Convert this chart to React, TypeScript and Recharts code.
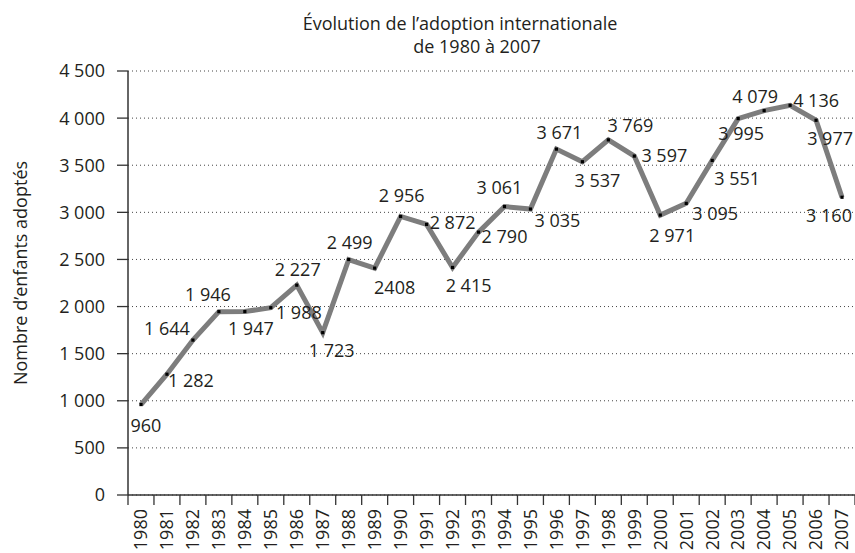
import React from 'react';
import { LineChart, Line, XAxis, YAxis, CartesianGrid, LabelList } from 'recharts';

const years = ['1980','1981','1982','1983','1984','1985','1986','1987','1988','1989','1990','1991','1992','1993','1994','1995','1996','1997','1998','1999','2000','2001','2002','2003','2004','2005','2006','2007'];
const adoptions = [960,1282,1644,1946,1947,1988,2227,1723,2499,2408,2956,2872,2415,2790,3061,3035,3671,3537,3769,3597,2971,3095,3551,3995,4079,4136,3977,3160];
const pointLabels = ['960','1 282','1 644','1 946','1 947','1 988','2 227','1 723','2 499','2408','2 956','2 872','2 415','2 790','3 061','3 035','3 671','3 537','3 769','3 597','2 971','3 095','3 551','3 995','4 079','4 136','3 977','3 160'];
const yTicks = [0,500,1000,1500,2000,2500,3000,3500,4000,4500];
const yTickLabels = ['0','500','1 000','1 500','2 000','2 500','3 000','3 500','4 000','4 500'];
const titleLine1 = 'Évolution de l’adoption internationale';
const titleLine2 = 'de 1980 à 2007';
const yAxisTitle = 'Nombre d’enfants adoptés';

// label placement offsets (px) relative to each point
const labelOffsets: [number, number][] = [
  [5,20],[24,6],[-26,-12],[-11,-18],[6,16],[28,4],[1,-16],[9,17],[1,-18],[20,19],
  [1,-21],[26,-2],[16,18],[26,4],[-5,-20],[27,11],[3,-17],[15,18],[22,-15],[30,-1],
  [12,20],[29,10],[25,18],[3,14],[-9,-15],[26,-5],[14,18],[-13,18],
];

const data = years.map((y, i) => ({ year: y, value: adoptions[i], label: pointLabels[i] }));

const W = 855;
const H = 553;
const LEFT = 128;
const TOP = 71;
const XAXIS_H = 58;
const PLOT_W = W - LEFT;
const HALF_BAND = PLOT_W / years.length / 2;
const FONT = '"Open Sans", sans-serif';
const TEXT = '#231f20';
const TICK_SIZE = 10;
const TICK_MARGIN = 4;

const XTick = (props: any) => {
  const { x, y, payload, index } = props;
  const axisY = y - TICK_SIZE - TICK_MARGIN;
  return (
    <g key={`xt-${index}`}>
      <line x1={x - HALF_BAND} x2={x - HALF_BAND} y1={axisY} y2={axisY + TICK_SIZE} stroke="#333" strokeWidth={1.3} />
      {index === years.length - 1 && (
        <line x1={x + HALF_BAND} x2={x + HALF_BAND} y1={axisY} y2={axisY + TICK_SIZE} stroke="#333" strokeWidth={1.3} />
      )}
      <g transform={`translate(${x},${y}) rotate(-90)`}>
        <text x={0} y={0} textAnchor="end" dy="0.35em" fontSize={18} fontFamily={FONT} fill={TEXT}>
          {payload.value}
        </text>
      </g>
    </g>
  );
};

const renderDot = (props: any) => {
  const { cx, cy, index } = props;
  return <rect key={`d-${index}`} x={cx - 1.6} y={cy - 1.6} width={3.2} height={3.2} fill="#000" />;
};

const renderLabel = (props: any) => {
  const { x, y, index, value } = props;
  const [dx, dy] = labelOffsets[index] || [0, 0];
  return (
    <text key={`l-${index}`} x={x + dx} y={y + dy} textAnchor="middle" dominantBaseline="central" fontSize={18} fontFamily={FONT} fill={TEXT}>
      {value}
    </text>
  );
};

export default function App() {
  return (
    <div style={{ position: 'absolute', left: 0, top: 0, width: W, height: H, background: '#fff' }}>
      <LineChart width={W} height={H} data={data} margin={{ top: TOP, right: 0, bottom: 0, left: 0 }} style={{ fontFamily: FONT }}>
        <CartesianGrid vertical={false} stroke="#444" strokeDasharray="1 3" strokeWidth={1} />
        <XAxis
          dataKey="year"
          height={XAXIS_H}
          interval={0}
          padding={{ left: HALF_BAND, right: HALF_BAND }}
          tickLine={false}
          tickSize={TICK_SIZE}
          tickMargin={TICK_MARGIN}
          axisLine={{ stroke: '#333', strokeWidth: 1.5 }}
          tick={(p: any) => <XTick {...p} />}
        />
        <YAxis
          width={LEFT}
          domain={[0, 4500]}
          ticks={yTicks}
          interval={0}
          tickSize={11}
          tickMargin={12}
          tickFormatter={(v: number) => yTickLabels[yTicks.indexOf(v)]}
          axisLine={{ stroke: '#333', strokeWidth: 1.5 }}
          tickLine={{ stroke: '#333', strokeWidth: 1.3 }}
          tick={{ fontSize: 18, fontFamily: FONT, fill: TEXT }}
        />
        <Line
          type="linear"
          dataKey="value"
          stroke="#7d7d7d"
          strokeWidth={5}
          dot={renderDot}
          activeDot={false}
          isAnimationActive={false}
        >
          <LabelList dataKey="label" content={renderLabel} />
        </Line>
      </LineChart>
      <svg width={W} height={H} style={{ position: 'absolute', left: 0, top: 0, pointerEvents: 'none' }}>
        <text x={460} y={30} textAnchor="middle" fontSize={18} fontFamily={FONT} fill={TEXT}>{titleLine1}</text>
        <text x={477} y={53} textAnchor="middle" fontSize={18} fontFamily={FONT} fill={TEXT}>{titleLine2}</text>
        <text x={20} y={273} transform="rotate(-90, 20, 273)" textAnchor="middle" dominantBaseline="central" fontSize={18} fontFamily={FONT} fill={TEXT}>{yAxisTitle}</text>
      </svg>
    </div>
  );
}
